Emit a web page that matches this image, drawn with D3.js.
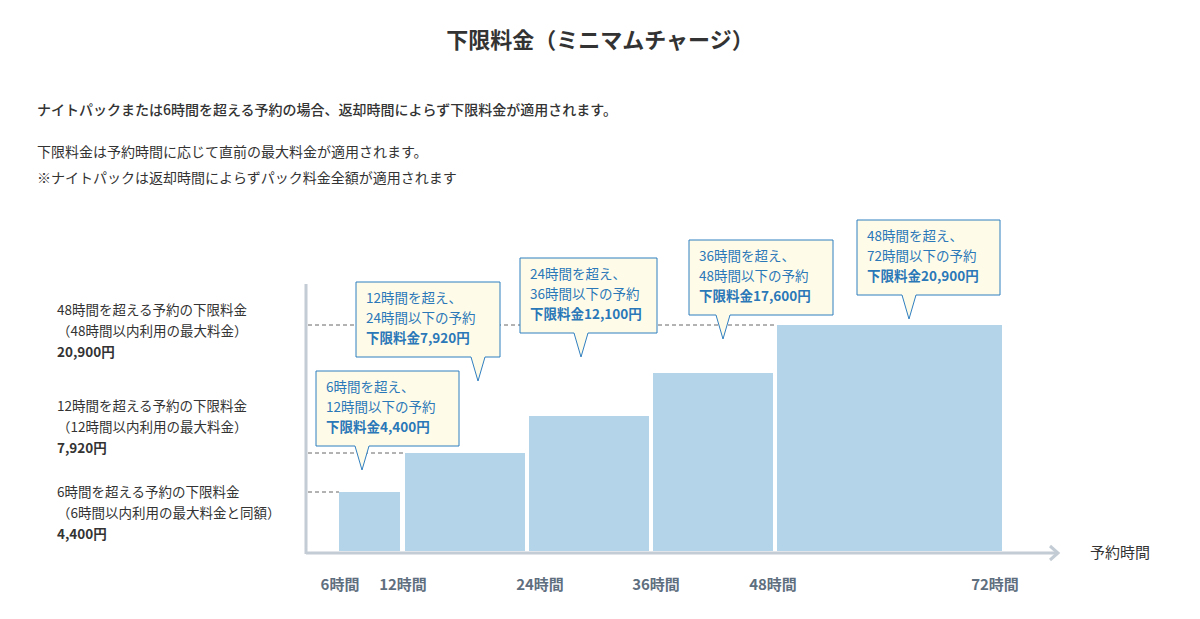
<!DOCTYPE html>
<html><head><meta charset="utf-8">
<script src="https://cdn.jsdelivr.net/npm/d3@7"></script>
<style>body{margin:0;background:#fff}svg{font-family:"Noto Sans CJK JP","Noto Sans",sans-serif}</style>
</head><body><svg id="c" width="1200" height="619"></svg>
<script>
const hours = [6, 12, 24, 36, 48, 72];
const tickLabels = ["6時間", "12時間", "24時間", "36時間", "48時間", "72時間"];
const values = [4400, 7920, 12100, 17600, 20900];
const calloutLines = [
  ["6時間を超え、", "12時間以下の予約", "下限料金4,400円"],
  ["12時間を超え、", "24時間以下の予約", "下限料金7,920円"],
  ["24時間を超え、", "36時間以下の予約", "下限料金12,100円"],
  ["36時間を超え、", "48時間以下の予約", "下限料金17,600円"],
  ["48時間を超え、", "72時間以下の予約", "下限料金20,900円"]
];
const leftLabels = [
  {v: 20900, lines: ["48時間を超える予約の下限料金", "（48時間以内利用の最大料金）", "20,900円"]},
  {v: 7920, lines: ["12時間を超える予約の下限料金", "（12時間以内利用の最大料金）", "7,920円"]},
  {v: 4400, lines: ["6時間を超える予約の下限料金", "（6時間以内利用の最大料金と同額）", "4,400円"]}
];

const svg = d3.select("#c");
const x = d3.scaleLinear().domain(hours).range([339, 403, 527, 651, 775, 1004]);
// the chart is not drawn to a strict linear scale; piecewise scale
const y = d3.scaleLinear().domain([0, 4400, 7920, 12100, 17600, 20900]).range([551, 492, 453, 416, 373, 325]);

svg.append("text").attr("x", 600).attr("y", 48).attr("text-anchor", "middle")
  .attr("font-size", 22).attr("font-weight", "bold").attr("fill", "#333").text("下限料金（ミニマムチャージ）");
svg.append("text").attr("x", 37).attr("y", 115).attr("font-size", 14).attr("font-weight", 500).attr("fill", "#333")
  .text("ナイトパックまたは6時間を超える予約の場合、返却時間によらず下限料金が適用されます。");
svg.append("text").attr("x", 37).attr("y", 157).attr("font-size", 14).attr("fill", "#333")
  .text("下限料金は予約時間に応じて直前の最大料金が適用されます。");
svg.append("text").attr("x", 37).attr("y", 183).attr("font-size", 14).attr("fill", "#333")
  .text("※ナイトパックは返却時間によらずパック料金全額が適用されます");

const dashEnds = {20900: x(48), 7920: x(12), 4400: x(6)};
const labelTops = [315, 411, 497];
leftLabels.forEach((d, k) => {
  svg.append("line").attr("x1", 308).attr("x2", dashEnds[d.v]).attr("y1", y(d.v)).attr("y2", y(d.v))
    .attr("stroke", "#666").attr("stroke-dasharray", "4,3");
  d.lines.forEach((t, i) => {
    svg.append("text").attr("x", 57).attr("y", labelTops[k] + i * 21).attr("font-size", 13.5)
      .attr("font-weight", i === 2 ? "bold" : "normal").attr("fill", "#333").text(t);
  });
});

const bars = values.map((v, i) => ({v, x0: hours[i], x1: hours[i + 1]}));
svg.selectAll("rect.bar").data(bars).join("rect").attr("class", "bar")
  .attr("x", d => x(d.x0) + (d.x0 === 6 ? 0 : 2))
  .attr("width", d => x(d.x1) - x(d.x0) - (d.x0 === 6 ? 3 : 4) + (d.x1 === 72 ? 0 : 0))
  .attr("y", d => y(d.v)).attr("height", d => y(0) - y(d.v))
  .attr("fill", "#b3d4e9");

svg.append("line").attr("x1", 306).attr("x2", 306).attr("y1", 284).attr("y2", 554)
  .attr("stroke", "#c3ccd4").attr("stroke-width", 3);
svg.append("line").attr("x1", 306).attr("x2", 1058).attr("y1", 553).attr("y2", 553)
  .attr("stroke", "#c3ccd4").attr("stroke-width", 3);
svg.append("path").attr("d", "M1050,546 L1058,553 L1050,560").attr("fill", "none")
  .attr("stroke", "#c3ccd4").attr("stroke-width", 3);
svg.append("text").attr("x", 1090).attr("y", 558).attr("font-size", 15).attr("fill", "#333").text("予約時間");

const labelOffsets = [1, 0, 13, 5, -2, -9];
hours.forEach((h, i) => {
  svg.append("text").attr("x", x(h) + labelOffsets[i]).attr("y", 590).attr("text-anchor", "middle")
    .attr("font-size", 15).attr("font-weight", "bold").attr("fill", "#5f6f7f").text(tickLabels[i]);
});

const boxes = [
  {x: 316, y: 371, w: 143, tip: 362},
  {x: 356, y: 282, w: 144, tip: 478},
  {x: 520, y: 258, w: 137, tip: 581},
  {x: 689, y: 240, w: 144, tip: 723},
  {x: 857, y: 220, w: 143, tip: 909}
];
boxes.forEach((b, i) => {
  const h = 75, bt = b.y + h, tx = b.tip;
  const p = `M${b.x},${b.y} H${b.x + b.w} V${bt} H${tx + 7} L${tx},${bt + 24} L${tx - 7},${bt} H${b.x} Z`;
  svg.append("path").attr("d", p).attr("fill", "#fffbe9").attr("stroke", "#2f7fc0").attr("stroke-width", 1);
  calloutLines[i].forEach((t, j) => {
    svg.append("text").attr("x", b.x + 10).attr("y", b.y + 21 + j * 20).attr("font-size", 13.5)
      .attr("font-weight", j === 2 ? "bold" : "normal").attr("fill", "#2a78b8").text(t);
  });
});
</script></body></html>
